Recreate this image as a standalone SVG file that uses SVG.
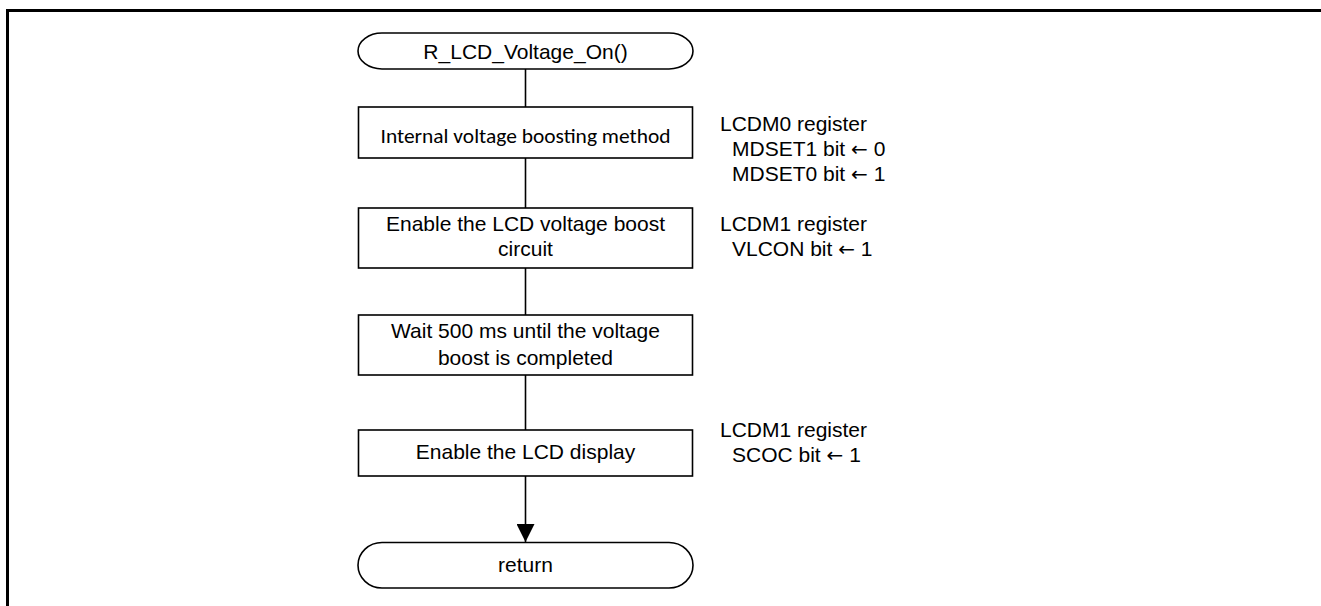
<svg xmlns="http://www.w3.org/2000/svg" width="1321" height="606" viewBox="0 0 1321 606">
<defs>
<style>
.shape{fill:#fff;stroke:#000;stroke-width:1.6}
.t{font-family:"Liberation Sans",Arial,sans-serif;font-size:21px;fill:#000}
.c{text-anchor:middle}
.ar{font-family:"DejaVu Sans",sans-serif;font-size:20px}
.cal{font-family:Carlito,Calibri,Lato,sans-serif;font-size:20.5px;fill:#000;text-anchor:middle}
.conn{stroke:#000;stroke-width:1.6;fill:none}
</style>
<marker id="arr" viewBox="0 0 18 18" refX="18" refY="9" markerWidth="18" markerHeight="18" markerUnits="userSpaceOnUse" orient="auto">
<path d="M0,0 L18,9 L0,18 Z" fill="#000"/>
</marker>
</defs>
<rect width="1321" height="606" fill="#fff"/>
<path d="M7.5,606 V10.5 H1321" fill="none" stroke="#000" stroke-width="3"/>
<g id="connectors">
<line class="conn" x1="525.5" y1="69" x2="525.5" y2="107"/>
<line class="conn" x1="525.5" y1="158" x2="525.5" y2="208"/>
<line class="conn" x1="525.5" y1="268" x2="525.5" y2="315"/>
<line class="conn" x1="525.5" y1="375" x2="525.5" y2="430"/>
<line class="conn" x1="525.5" y1="476" x2="525.5" y2="542" marker-end="url(#arr)"/>
</g>
<g id="start">
<path class="shape" d="M382,33 H669 A24,18 0 0 1 669,69 H382 A24,18 0 0 1 382,33 Z"/>
<text class="t c" x="525.5" y="59">R_LCD_Voltage_On()</text>
</g>
<g id="box1">
<rect class="shape" x="358.5" y="107" width="334" height="51"/>
<text class="cal" x="525.5" y="143" textLength="290" lengthAdjust="spacingAndGlyphs">Internal voltage boosting method</text>
</g>
<g id="note1">
<text class="t" x="720" y="131">LCDM0 register</text>
<text class="t" x="732" y="156">MDSET1 bit <tspan class="ar">←</tspan> 0</text>
<text class="t" x="732" y="181">MDSET0 bit <tspan class="ar">←</tspan> 1</text>
</g>
<g id="box2">
<rect class="shape" x="358.5" y="208" width="334" height="60"/>
<text class="t c" x="525.5" y="231">Enable the LCD voltage boost</text>
<text class="t c" x="525.5" y="256">circuit</text>
</g>
<g id="note2">
<text class="t" x="720" y="231">LCDM1 register</text>
<text class="t" x="732" y="256">VLCON bit <tspan class="ar">←</tspan> 1</text>
</g>
<g id="box3">
<rect class="shape" x="358.5" y="315" width="334" height="60"/>
<text class="t c" x="525.5" y="338">Wait 500 ms until the voltage</text>
<text class="t c" x="525.5" y="365">boost is completed</text>
</g>
<g id="box4">
<rect class="shape" x="358.5" y="430" width="334" height="46"/>
<text class="t c" x="525.5" y="459">Enable the LCD display</text>
</g>
<g id="note4">
<text class="t" x="720" y="437">LCDM1 register</text>
<text class="t" x="732" y="462">SCOC bit <tspan class="ar">←</tspan> 1</text>
</g>
<g id="end">
<path class="shape" d="M382,542.5 H669 A24,22.75 0 0 1 669,588 H382 A24,22.75 0 0 1 382,542.5 Z"/>
<text class="t c" x="525.5" y="572">return</text>
</g>
</svg>
